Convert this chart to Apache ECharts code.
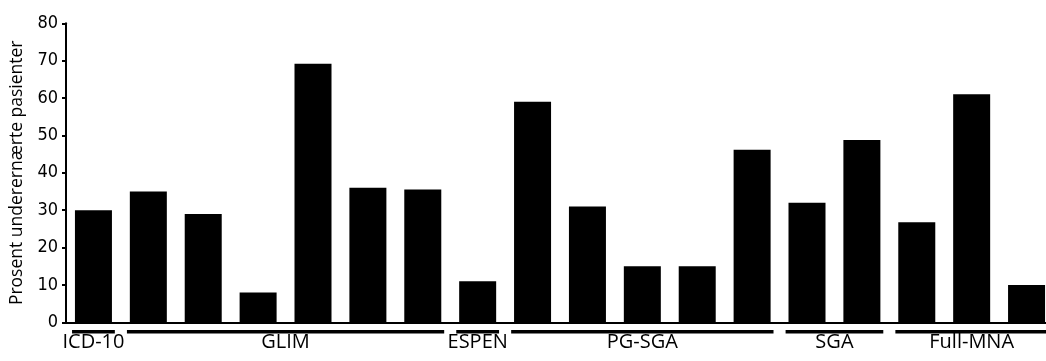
<!DOCTYPE html>
<html>
<head>
<meta charset="utf-8">
<script src="https://cdn.jsdelivr.net/npm/echarts@6/dist/echarts.min.js"></script>
<style>
html,body{margin:0;padding:0;background:#fff;}
#chart{width:1046px;height:361px;}
</style>
</head>
<body>
<div id="chart"></div>
<script>
// Data
const categories = ['ICD-10 a','GLIM a','GLIM b','GLIM c','GLIM d','GLIM e','GLIM f','ESPEN a','PG-SGA a','PG-SGA b','PG-SGA c','PG-SGA d','PG-SGA e','SGA a','SGA b','Full-MNA a','Full-MNA b','Full-MNA c'];
const values = [30, 35, 29, 8, 69.2, 36, 35.5, 11, 59, 31, 15, 15, 46.2, 32, 48.8, 26.8, 61, 10];
const groupNames = ['ICD-10','GLIM','ESPEN','PG-SGA','SGA','Full-MNA'];
const groupSizes = [1, 6, 1, 5, 2, 3];
const yTicks = [0, 10, 20, 30, 40, 50, 60, 70, 80];
const yTitle = 'Prosent underernærte pasienter';

// build group index ranges
const groupData = [];
let idx = 0;
groupSizes.forEach((n, i) => { groupData.push([idx, idx + n - 1, i]); idx += n; });

const chart = echarts.init(document.getElementById('chart'), null, {renderer: 'canvas'});
const labelFont = "'Open Sans', 'Noto Sans', sans-serif";
const option = {
  animation: false,
  backgroundColor: '#fff',
  grid: {left: 66, top: 23.3, width: 988, bottom: 38.7, containLabel: false, outerBoundsMode: 'none'},
  xAxis: {
    type: 'category',
    data: categories,
    axisLine: {show: true, lineStyle: {color: '#000', width: 2}},
    axisTick: {show: false},
    axisLabel: {show: false},
    splitLine: {show: false}
  },
  yAxis: {
    type: 'value',
    min: yTicks[0], max: yTicks[yTicks.length - 1], interval: 10,
    name: yTitle,
    nameLocation: 'middle',
    nameGap: 40,
    nameTextStyle: {fontFamily: labelFont, fontSize: 17.5, color: '#000'},
    axisLine: {show: true, lineStyle: {color: '#000', width: 2}},
    axisTick: {show: true, inside: false, length: 4, lineStyle: {color: '#000', width: 2}},
    axisLabel: {margin: 8, color: '#000', fontSize: 18, fontFamily: "'Liberation Sans Narrow', 'Arial Narrow', 'DejaVu Sans Condensed', sans-serif"},
    splitLine: {show: false}
  },
  series: [
    {
      type: 'bar',
      data: values,
      barWidth: 37,
      itemStyle: {color: '#000'}
    },
    {
      type: 'custom',
      data: groupData,
      clip: false,
      silent: true,
      encode: {x: [0, 1]},
      renderItem: function (params, api) {
        const s = api.coord([api.value(0), 0]);
        const e = api.coord([api.value(1), 0]);
        const bw = api.size([1, 0])[0];
        const ext = bw * 0.39;
        const x1 = s[0] - ext, x2 = e[0] + ext;
        const y = s[1] + 9.5;
        return {
          type: 'group',
          children: [
            {type: 'rect', shape: {x: x1, y: y - 1.75, width: x2 - x1, height: 3.5}, style: {fill: '#000'}},
            {type: 'text', x: (s[0] + e[0]) / 2, y: y + 10.5,
             style: {text: groupNames[api.value(2)], fill: '#000', font: "20px " + labelFont, textAlign: 'center', textVerticalAlign: 'middle'}}
          ]
        };
      }
    }
  ]
};
chart.setOption(option);
</script>
</body>
</html>
